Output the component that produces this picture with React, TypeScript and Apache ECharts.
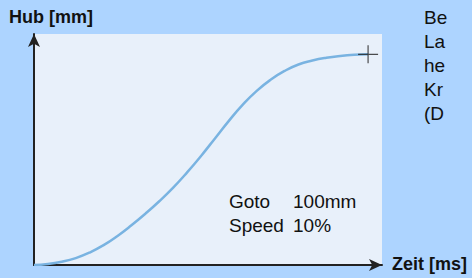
import React, { useEffect, useRef } from "react";
import * as echarts from "echarts";

// Curve values (time in % of axis, stroke in % of axis)
const timeValues = [0, 4, 8, 12, 16, 20, 24, 28, 32, 36, 40, 44, 48, 52, 56, 60, 64, 68, 72, 76, 80, 84, 88, 92, 96];
const strokeValues = [0, 0.4, 1.4, 3.0, 5.4, 8.6, 12.6, 17.2, 22.2, 27.6, 33.5, 40.1, 47.2, 54.8, 62.4, 69.4, 75.4, 80.2, 84.0, 86.8, 88.5, 89.7, 90.5, 91.0, 91.2];

const yAxisLabel = "Hub [mm]";
const xAxisLabel = "Zeit [ms]";
const infoLabels = ["Goto", "Speed"];
const infoValues = ["100mm", "10%"];
const sideLines = ["Be", "La", "he", "Kr", "(D"];

export default function App() {
  const ref = useRef<HTMLDivElement>(null);
  useEffect(() => {
    if (!ref.current) return;
    const chart = echarts.init(ref.current, undefined, { renderer: "svg" });
    const font = "Liberation Sans, Arial, sans-serif";
    const curve = timeValues.map((t, i) => [t, strokeValues[i]]);
    const endPoint = curve[curve.length - 1];

    const graphics: any[] = [
      {
        type: "text",
        left: 9,
        top: 8,
        style: { text: yAxisLabel, font: `bold 18px ${font}`, fill: "#111" },
      },
      {
        type: "text",
        left: 392,
        top: 255,
        style: { text: xAxisLabel, font: `bold 18px ${font}`, fill: "#111" },
      },
    ];
    infoLabels.forEach((lbl, i) => {
      graphics.push({
        type: "text",
        left: 229,
        top: 192 + i * 24,
        style: { text: lbl, font: `19px ${font}`, fill: "#111" },
      });
      graphics.push({
        type: "text",
        left: 293,
        top: 192 + i * 24,
        style: { text: infoValues[i], font: `19px ${font}`, fill: "#111" },
      });
    });
    sideLines.forEach((s, i) => {
      graphics.push({
        type: "text",
        left: 424,
        top: 8 + i * 24,
        style: { text: s, font: `19px ${font}`, fill: "#111" },
      });
    });

    const axisCommon = {
      type: "value" as const,
      min: 0,
      max: 100,
      axisTick: { show: false },
      axisLabel: { show: false },
      splitLine: { show: false },
      axisLine: {
        show: true,
        symbol: ["none", "arrow"],
        symbolSize: [9, 13],
        lineStyle: { color: "#222", width: 2 },
      },
    };

    chart.setOption({
      animation: false,
      backgroundColor: "#add4ff",
      grid: {
        left: 34,
        right: 90,
        top: 34,
        bottom: 13,
        show: true,
        backgroundColor: "#e8f0fa",
        borderWidth: 0,
      },
      xAxis: { ...axisCommon },
      yAxis: { ...axisCommon },
      graphic: graphics,
      series: [
        {
          type: "line",
          data: curve,
          smooth: true,
          showSymbol: false,
          lineStyle: { color: "#79b3e1", width: 2.5 },
        },
        {
          type: "scatter",
          data: [endPoint],
          symbol: "path://M0,8.4H20V9.6H0Z M9.4,0H10.6V18H9.4Z",
          symbolSize: [20, 18],
          itemStyle: { color: "#222" },
          z: 5,
        },
      ],
    });
    return () => chart.dispose();
  }, []);
  return (
    <div
      ref={ref}
      style={{ position: "absolute", left: 0, top: 0, width: 472, height: 278 }}
    />
  );
}
